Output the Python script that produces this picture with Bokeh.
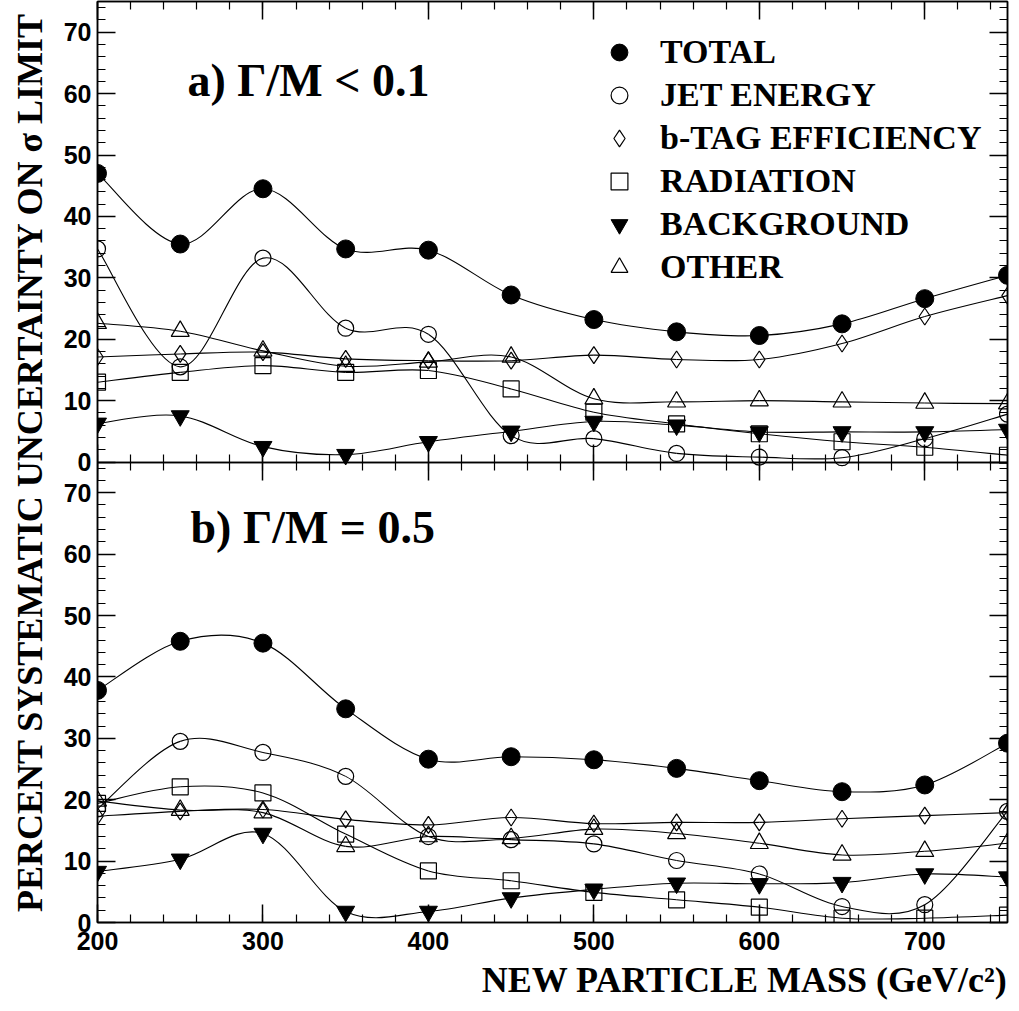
from bokeh.plotting import figure
from bokeh.models import (Range1d, LinearAxis, SingleIntervalTicker, FixedTicker,
                          CustomJSTickFormatter, Label, Legend, LegendItem, Title)
from bokeh.embed import file_html
from bokeh.resources import INLINE

# ---------------- data ----------------
mass = [200, 250, 300, 350, 400, 450, 500, 550, 600, 650, 700, 750]

# panel a)  Gamma/M < 0.1
total_a = [47.0, 35.5, 44.5, 34.7, 34.5, 27.2, 23.2, 21.2, 20.6, 22.5, 26.6, 30.4]
jet_a   = [34.7, 15.5, 33.2, 21.8, 20.8, 4.3, 3.8, 1.4, 0.8, 0.7, 3.8, 7.8]
btag_a  = [17.1, 17.6, 17.9, 16.8, 16.5, 16.5, 17.4, 16.7, 16.7, 19.3, 23.7, 27.1]
rad_a   = [13.0, 14.6, 15.7, 14.6, 14.9, 11.9, 8.1, 6.2, 4.6, 3.3, 2.4, 1.1]
bkg_a   = [6.3, 7.5, 2.5, 1.2, 3.3, 5.0, 6.6, 6.0, 4.9, 4.9, 4.9, 5.3]
oth_a   = [22.6, 21.3, 18.1, 15.6, 16.3, 17.1, 10.3, 9.8, 10.0, 9.8, 9.6, 9.5]

# panel b)  Gamma/M = 0.5
total_b = [37.8, 45.8, 45.5, 34.8, 26.6, 27.0, 26.5, 25.1, 23.1, 21.3, 22.4, 29.2]
jet_b   = [18.5, 29.5, 27.7, 23.8, 14.0, 13.5, 12.8, 10.1, 7.9, 2.6, 2.9, 18.1]
btag_b  = [17.3, 18.1, 18.4, 16.8, 15.9, 17.1, 16.1, 16.3, 16.3, 16.9, 17.4, 17.9]
rad_b   = [19.4, 22.1, 21.1, 14.4, 8.4, 6.8, 4.9, 3.7, 2.5, 0.7, 0.7, 1.2]
bkg_b   = [8.3, 10.3, 14.5, 1.8, 1.8, 4.0, 5.4, 6.4, 6.3, 6.5, 7.9, 7.4]
oth_b   = [19.8, 18.3, 17.9, 12.4, 14.0, 13.7, 15.2, 14.5, 12.9, 11.0, 11.6, 12.9]

series_names = ["TOTAL", "JET ENERGY", "b-TAG EFFICIENCY", "RADIATION", "BACKGROUND", "OTHER"]
panel_a_label = "a) Γ/M < 0.1"
panel_b_label = "b) Γ/M = 0.5"
x_title = "NEW PARTICLE MASS (GeV/c²)"
y_title = "PERCENT SYSTEMATIC UNCERTAINTY ON σ LIMIT"
y_tick_values = [0, 10, 20, 30, 40, 50, 60, 70]
panel_span = 75

# ---------------- figure ----------------
p = figure(frame_width=910, frame_height=921,
           x_range=Range1d(200, 750), y_range=Range1d(0, 2 * panel_span),
           x_axis_type=None, y_axis_type=None,
           output_backend="svg", toolbar_location=None,
           min_border_left=97, min_border_right=2, min_border_top=1, min_border_bottom=20)
p.extra_y_ranges = {"top": Range1d(-panel_span, panel_span)}
p.outline_line_color = "black"
p.outline_line_width = 1.5
p.background_fill_color = "white"
p.border_fill_color = "white"

xt = SingleIntervalTicker(interval=100, num_minor_ticks=5)
ymaj = y_tick_values + [panel_span + v for v in y_tick_values]
ymin = list(range(0, panel_span, 2)) + [panel_span + v for v in range(0, panel_span, 2)]
yt = FixedTicker(ticks=ymaj, minor_ticks=ymin)
yfmt = CustomJSTickFormatter(code="return String(tick >= %d ? Math.round(tick - %d) : Math.round(tick));"
                             % (panel_span, panel_span))
blank = CustomJSTickFormatter(code="return '';")

def style_axis(ax, labels):
    ax.axis_line_color = "black"
    ax.axis_line_width = 1.5
    ax.major_tick_in = 18
    ax.major_tick_out = 0
    ax.minor_tick_in = 8
    ax.minor_tick_out = 0
    ax.major_tick_line_color = "black"
    ax.minor_tick_line_color = "black"
    ax.major_tick_line_width = 1.5
    ax.minor_tick_line_width = 1.2
    if labels:
        ax.major_label_text_font = "Liberation Sans"
        ax.major_label_text_font_style = "bold"
        ax.major_label_text_font_size = "25px"
        ax.major_label_text_color = "black"
    else:
        ax.formatter = blank
        ax.major_label_text_color = None
        ax.major_label_text_font_size = "0px"
        ax.major_label_standoff = 0
    return ax

ax_b = style_axis(LinearAxis(ticker=xt), True)
ax_b.major_label_standoff = 9
p.add_layout(ax_b, "below")
p.add_layout(style_axis(LinearAxis(ticker=xt), False), "above")
ax_l = style_axis(LinearAxis(ticker=yt, formatter=yfmt), True)
ax_l.major_label_standoff = 6
p.add_layout(ax_l, "left")
p.add_layout(style_axis(LinearAxis(ticker=yt), False), "right")
# shared boundary between the two panels
p.add_layout(style_axis(LinearAxis(ticker=xt, fixed_location=panel_span), False), "below")
p.add_layout(style_axis(LinearAxis(ticker=xt, fixed_location=panel_span), False), "above")

serif = dict(text_font="Liberation Serif", text_font_style="bold", text_color="black")
p.add_layout(Title(text=x_title, align="right", standoff=10, offset=0,
                   text_font_size="36px", **serif), "below")
p.add_layout(Title(text=y_title, align="center", vertical_align="top", standoff=18, offset=9,
                   text_font_size="36px", **serif), "left")

# ---------------- smooth curves through the points ----------------
def bezier_through(xs, ys):
    n = len(xs)
    out = dict(x0=[], y0=[], x1=[], y1=[], cx0=[], cy0=[], cx1=[], cy1=[])
    for i in range(n - 1):
        xm, ym = (xs[i - 1], ys[i - 1]) if i > 0 else (xs[i], ys[i])
        xp, yp = (xs[i + 2], ys[i + 2]) if i + 2 < n else (xs[i + 1], ys[i + 1])
        out["x0"].append(xs[i]); out["y0"].append(ys[i])
        out["x1"].append(xs[i + 1]); out["y1"].append(ys[i + 1])
        out["cx0"].append(xs[i] + (xs[i + 1] - xm) / 6.0)
        out["cy0"].append(ys[i] + (ys[i + 1] - ym) / 6.0)
        out["cx1"].append(xs[i + 1] - (xp - xs[i]) / 6.0)
        out["cy1"].append(ys[i + 1] - (yp - ys[i]) / 6.0)
    return out

styles = [
    dict(marker="circle", size=18, fill_color="black", line_color="black"),
    dict(marker="circle", size=16, fill_color=None, line_color="black", line_width=1.2),
    dict(marker="diamond", size=17, fill_color=None, line_color="black", line_width=1.2),
    dict(marker="square", size=16, fill_color=None, line_color="black", line_width=1.2),
    dict(marker="inverted_triangle", size=18, fill_color="black", line_color="black"),
    dict(marker="triangle", size=18, fill_color=None, line_color="black", line_width=1.2),
]

panels = [
    ("top", [total_a, jet_a, btag_a, rad_a, bkg_a, oth_a]),
    ("default", [total_b, jet_b, btag_b, rad_b, bkg_b, oth_b]),
]

legend_renderers = []
for rng, data in panels:
    for vals in data:
        p.bezier(line_color="black", line_width=1.1, y_range_name=rng, **bezier_through(mass, vals))
for rng, data in panels:
    for vals, st in zip(data, styles):
        r = p.scatter(mass, vals, y_range_name=rng, **st)
        if rng == "top":
            legend_renderers.append(r)

legend = Legend(items=[LegendItem(label=n, renderers=[r]) for n, r in zip(series_names, legend_renderers)],
                location=(501, 634), orientation="vertical",
                glyph_width=42, glyph_height=42, spacing=1, padding=0, margin=0,
                label_standoff=20, label_text_font="Liberation Serif",
                label_text_font_style="bold", label_text_font_size="34px",
                label_text_color="black",
                border_line_color=None, background_fill_alpha=0)
p.add_layout(legend)

p.add_layout(Label(x=254.4, y=62.2, y_range_name="top", text=panel_a_label,
                   text_font_size="46px", text_baseline="middle", **serif))
p.add_layout(Label(x=256.2, y=64.4, text=panel_b_label,
                   text_font_size="46px", text_baseline="middle", **serif))

open("out.html", "w").write(file_html(p, INLINE))
